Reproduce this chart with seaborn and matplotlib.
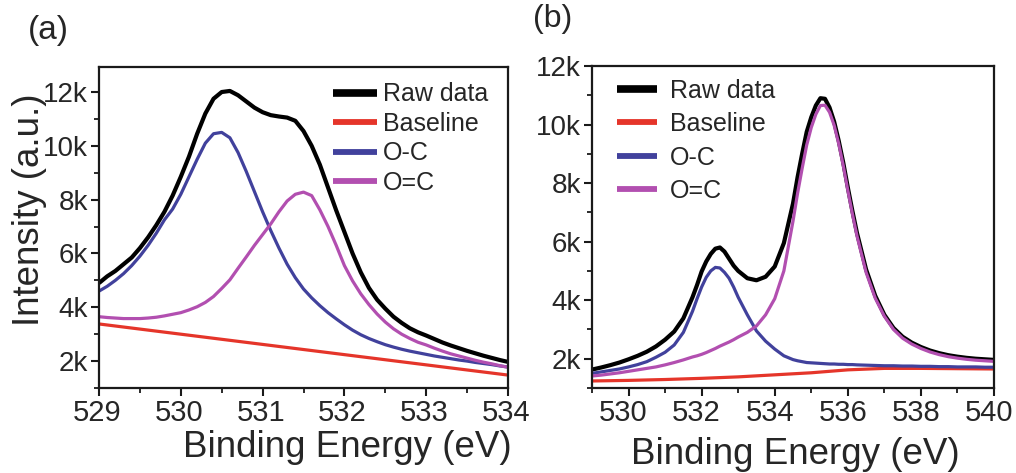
import numpy as np
import pandas as pd
import matplotlib
matplotlib.use("Agg")
import matplotlib.pyplot as plt
import matplotlib.transforms as mtransforms
import seaborn as sns
from matplotlib.ticker import MultipleLocator, FuncFormatter

# ---------------- data (intensity in thousands of counts) ----------------
series_names = ["Raw data", "Baseline", "O-C", "O=C"]
series_colors = ["#000000", "#e5352a", "#41419c", "#b24fb0"]

# panel (a): energy grid 529.0 .. 534.0, step 0.1 eV
a_energy = np.round(np.linspace(529.0, 534.0, 51), 2)
a_raw = [4.90, 5.15, 5.35, 5.60, 5.85, 6.20, 6.60, 7.05, 7.55, 8.15,
         8.85, 9.60, 10.45, 11.20, 11.75, 12.00, 12.04, 11.88, 11.65, 11.42,
         11.25, 11.14, 11.09, 11.05, 10.93, 10.55, 10.00, 9.30, 8.45, 7.60,
         6.80, 6.00, 5.30, 4.72, 4.28, 3.95, 3.65, 3.42, 3.22, 3.07,
         2.95, 2.82, 2.69, 2.58, 2.48, 2.38, 2.29, 2.20, 2.12, 2.04, 1.97]
a_oc = [4.60, 4.78, 5.00, 5.25, 5.55, 5.90, 6.30, 6.75, 7.25, 7.65,
        8.20, 8.85, 9.50, 10.10, 10.45, 10.50, 10.30, 9.75, 9.05, 8.30,
        7.55, 6.85, 6.20, 5.60, 5.10, 4.68, 4.35, 4.06, 3.80, 3.57,
        3.35, 3.15, 2.98, 2.84, 2.72, 2.61, 2.52, 2.44, 2.37, 2.31,
        2.25, 2.19, 2.14, 2.09, 2.04, 2.00, 1.95, 1.91, 1.87, 1.82, 1.78]
a_oeqc = [3.65, 3.62, 3.60, 3.58, 3.58, 3.58, 3.60, 3.63, 3.68, 3.74,
          3.80, 3.90, 4.02, 4.18, 4.40, 4.70, 5.02, 5.45, 5.87, 6.30,
          6.70, 7.10, 7.55, 7.95, 8.20, 8.28, 8.15, 7.62, 7.00, 6.30,
          5.55, 4.98, 4.50, 4.10, 3.75, 3.45, 3.20, 3.00, 2.84, 2.70,
          2.60, 2.48, 2.37, 2.27, 2.19, 2.11, 2.03, 1.96, 1.90, 1.83, 1.77]
a_base_energy = [529.0, 530.0, 531.0, 532.0, 533.0, 534.0]
a_base = [3.38, 3.00, 2.62, 2.24, 1.86, 1.48]

# panel (b): sampled energies (denser around the two peaks)
b_energy = [529.0, 529.25, 529.5, 529.75, 530.0, 530.25, 530.5, 530.75,
            531.0, 531.25, 531.5, 531.75,
            531.875, 532.0, 532.125, 532.25, 532.375, 532.5, 532.625, 532.75,
            532.875, 533.0,
            533.25, 533.5, 533.75, 534.0, 534.25, 534.5,
            534.625, 534.75, 534.875, 535.0, 535.125, 535.25, 535.375, 535.5,
            535.625, 535.75, 535.875, 536.0, 536.125, 536.25,
            536.5, 536.75, 537.0, 537.25, 537.5, 537.75, 538.0, 538.25,
            538.5, 538.75, 539.0, 539.25, 539.5, 539.75, 540.0]
b_raw = [1.63, 1.70, 1.78, 1.87, 1.98, 2.10, 2.24, 2.42,
         2.65, 2.93, 3.38, 4.10,
         4.52, 4.98, 5.32, 5.58, 5.76, 5.80, 5.66, 5.42,
         5.18, 5.00,
         4.75, 4.68, 4.80, 5.15, 5.95, 7.30,
         8.20, 9.00, 9.75, 10.25, 10.65, 10.90, 10.88, 10.58,
         10.10, 9.45, 8.70, 7.85, 7.05, 6.30,
         5.05, 4.15, 3.50, 3.05, 2.75, 2.55, 2.40, 2.28,
         2.19, 2.12, 2.07, 2.03, 2.00, 1.98, 1.96]
b_oc = [1.50, 1.55, 1.60, 1.65, 1.72, 1.80, 1.90, 2.05,
        2.22, 2.47, 2.90, 3.62,
        4.05, 4.45, 4.78, 5.00, 5.12, 5.10, 4.95, 4.75,
        4.45, 4.10,
        3.50, 2.95, 2.60, 2.33, 2.10, 1.97,
        1.93, 1.90, 1.87, 1.86, 1.85, 1.84, 1.83, 1.82,
        1.82, 1.81, 1.81, 1.80, 1.80, 1.79,
        1.78, 1.77, 1.76, 1.76, 1.75, 1.75, 1.74, 1.74,
        1.73, 1.73, 1.72, 1.72, 1.72, 1.71, 1.71]
b_oeqc = [1.41, 1.44, 1.48, 1.52, 1.57, 1.62, 1.67, 1.72,
          1.79, 1.87, 1.96, 2.06,
          2.10, 2.15, 2.21, 2.28, 2.35, 2.43, 2.50, 2.57,
          2.65, 2.74,
          2.90, 3.12, 3.50, 4.05, 5.00, 6.70,
          7.65, 8.50, 9.30, 9.90, 10.35, 10.65, 10.66, 10.42,
          9.98, 9.35, 8.60, 7.75, 6.95, 6.20,
          4.95, 4.07, 3.45, 3.00, 2.70, 2.50, 2.35, 2.23,
          2.14, 2.07, 2.02, 1.98, 1.95, 1.93, 1.91]
b_base_energy = [529.0, 530.0, 531.0, 532.0, 533.0, 534.0, 535.0, 536.0,
                 537.0, 538.0, 539.0, 540.0]
b_base = [1.24, 1.26, 1.29, 1.33, 1.38, 1.45, 1.52, 1.62, 1.67, 1.67, 1.66, 1.65]

# ---------------- style ----------------
sns.set_theme(style="ticks")
plt.rcParams["font.family"] = ["Liberation Sans", "DejaVu Sans"]
plt.rcParams["axes.linewidth"] = 1.6
plt.rcParams["axes.edgecolor"] = "#1a1a1a"

fig = plt.figure(figsize=(10.16, 4.73), dpi=100)
W, H = 1016, 473
ax_a = fig.add_axes([99 / W, 1 - 388 / H, (508 - 99) / W, (388 - 67) / H])
ax_b = fig.add_axes([592 / W, 1 - 388 / H, (994 - 592) / W, (388 - 66) / H])


def long_df(energy, raw, bx, base, oc, oeqc):
    parts = []
    for name, x, y in zip(series_names, [energy, bx, energy, energy],
                          [raw, base, oc, oeqc]):
        parts.append(pd.DataFrame({"energy": x, "intensity": y, "series": name}))
    return pd.concat(parts, ignore_index=True)


def draw(ax, df):
    widths = {"Raw data": 3.0, "Baseline": 2.3, "O-C": 2.3, "O=C": 2.3}
    for name, color in zip(series_names, series_colors):
        sub = df[df["series"] == name]
        sns.lineplot(data=sub, x="energy", y="intensity", ax=ax, color=color,
                     linewidth=widths[name], label=name, errorbar=None,
                     solid_joinstyle="round", solid_capstyle="butt")
    for s in ax.spines.values():
        s.set_visible(True)
    ax.set_facecolor("white")
    ax.yaxis.set_major_locator(MultipleLocator(2))
    ax.yaxis.set_minor_locator(MultipleLocator(1))
    ax.yaxis.set_major_formatter(FuncFormatter(lambda v, p: f"{v:.0f}k"))
    ax.tick_params(axis="both", which="major", direction="out", length=6,
                   width=1.5, color="#1a1a1a", pad=2, top=False, right=False,
                   labelsize=21)
    ax.tick_params(axis="y", which="major", labelsize=20)
    ax.tick_params(axis="both", which="minor", direction="out", length=3.5,
                   width=1.3, color="#1a1a1a", top=False, right=False)
    ax.set_xlabel("Binding Energy (eV)", fontsize=26.5)
    ax.set_ylabel("")


df_a = long_df(a_energy, a_raw, a_base_energy, a_base, a_oc, a_oeqc)
df_b = long_df(b_energy, b_raw, b_base_energy, b_base, b_oc, b_oeqc)

draw(ax_a, df_a)
ax_a.set_xlim(529, 534)
ax_a.set_ylim(1.0, 12.93)
ax_a.xaxis.set_major_locator(MultipleLocator(1))
ax_a.xaxis.set_minor_locator(MultipleLocator(0.5))
ax_a.xaxis.set_major_formatter(FuncFormatter(lambda v, p: f"{v:.0f}"))
ax_a.xaxis.set_label_coords(0.607, -0.13)
ax_a.set_ylabel("Intensity (a.u.)", fontsize=26.5)
ax_a.yaxis.set_label_coords(-0.128, 0.555)

draw(ax_b, df_b)
ax_b.set_xlim(529, 540)
ax_b.set_ylim(1.0, 12.0)
ax_b.xaxis.set_major_locator(MultipleLocator(2))
ax_b.xaxis.set_minor_locator(MultipleLocator(1))
ax_b.xaxis.set_major_formatter(FuncFormatter(lambda v, p: f"{v:.0f}"))
ax_b.xaxis.set_label_coords(0.506, -0.152)

# x tick labels sit a few pixels left of their ticks in the reference
for ax, dx in ((ax_a, -2), (ax_b, -5)):
    shift = mtransforms.ScaledTranslation(dx / 100, 0, fig.dpi_scale_trans)
    for lab in ax.get_xticklabels():
        lab.set_transform(lab.get_transform() + shift)

leg_a = ax_a.legend(loc="upper left", bbox_to_anchor=(0.572, 0.952), frameon=False,
                    fontsize=18, handlelength=1.76, handletextpad=0.24,
                    labelspacing=0.22, borderpad=0, borderaxespad=0)
leg_b = ax_b.legend(loc="upper left", bbox_to_anchor=(0.062, 0.961), frameon=False,
                    fontsize=18, handlelength=1.6, handletextpad=0.52,
                    labelspacing=0.38, borderpad=0, borderaxespad=0)
for leg in (leg_a, leg_b):
    for line, name in zip(leg.get_lines(), series_names):
        line.set_linewidth(5.5 if name == "Raw data" else 4.2)

fig.text(28 / W, 1 - 31 / H, "(a)", fontsize=24, ha="left", va="center")
fig.text(533 / W, 1 - 19 / H, "(b)", fontsize=23, ha="left", va="center")

fig.savefig("out.png", dpi=100, facecolor="white")
